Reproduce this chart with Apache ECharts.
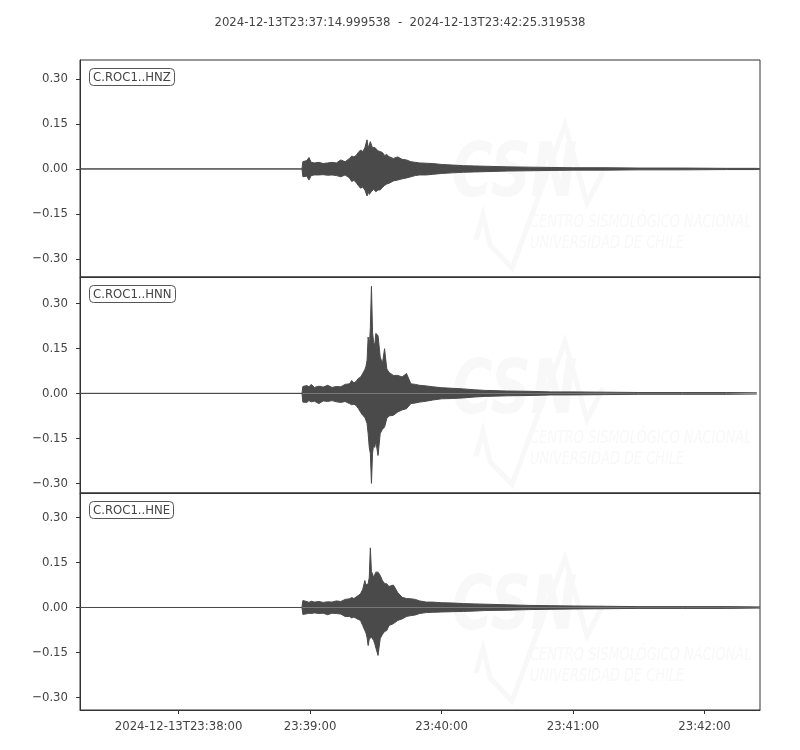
<!DOCTYPE html>
<html>
<head>
<meta charset="utf-8">
<script src="https://cdn.jsdelivr.net/npm/echarts@6/dist/echarts.min.js"></script>
<style>
  html, body { margin: 0; padding: 0; background: #fff; }
  #main { width: 800px; height: 750px; }
</style>
</head>
<body>
<div id="main"></div>
<script>
// times in seconds after 23:37:00 (start 23:37:14.999538, end 23:42:25.319538)
var tStart = 14.999538
var tEnd = 325.319538
var channels = ['C.ROC1..HNZ', 'C.ROC1..HNN', 'C.ROC1..HNE']

// envelope sample times (s)
var times = [15, 116.3, 116.7, 117.5, 118.5, 119.5, 120.5, 122, 124, 126, 128, 130, 132, 134, 136, 138, 139, 140,
  141, 142, 143, 144, 145, 145.5, 146, 146.5, 147, 147.5, 148, 148.5, 149, 149.5, 150, 151, 152, 153, 154, 155,
  156, 158, 160, 162, 164, 166, 168, 170, 173, 176, 180, 185, 190, 195, 200, 210, 220, 230, 240, 255, 270, 290,
  310, 323.9, 325.3]

// HNZ upper / lower envelope
var hnzHi = [0, 0, 0.024, 0.02, 0.028, 0.038, 0.022, 0.02, 0.022, 0.018, 0.02, 0.022, 0.02, 0.03, 0.024, 0.035, 0.043, 0.04,
  0.045, 0.055, 0.063, 0.058, 0.07, 0.085, 0.097, 0.07, 0.08, 0.091, 0.088, 0.07, 0.065, 0.072, 0.074, 0.06, 0.058, 0.055, 0.045, 0.048,
  0.041, 0.035, 0.04, 0.032, 0.03, 0.024, 0.022, 0.02, 0.019, 0.018, 0.015, 0.013, 0.011, 0.01, 0.009, 0.007, 0.006, 0.005, 0.004, 0.004, 0.003, 0.003,
  0.002, 0.002, 0.001]
var hnzLo = [0, 0, -0.026, -0.022, -0.024, -0.037, -0.022, -0.02, -0.02, -0.019, -0.021, -0.02, -0.022, -0.026, -0.02, -0.03, -0.042, -0.038,
  -0.045, -0.055, -0.064, -0.06, -0.07, -0.08, -0.09, -0.075, -0.085, -0.083, -0.075, -0.07, -0.068, -0.07, -0.076, -0.07, -0.07, -0.062, -0.055, -0.05,
  -0.048, -0.04, -0.037, -0.033, -0.03, -0.026, -0.022, -0.02, -0.02, -0.018, -0.015, -0.013, -0.011, -0.01, -0.009, -0.007, -0.006, -0.005, -0.004, -0.004, -0.003, -0.003,
  -0.002, -0.002, -0.001]

// HNN upper / lower envelope (trace stops before the end)
var hnnHi = [0, 0, 0.023, 0.02, 0.026, 0.022, 0.03, 0.02, 0.024, 0.021, 0.027, 0.02, 0.023, 0.022, 0.03, 0.032, 0.043, 0.035,
  0.04, 0.05, 0.054, 0.066, 0.08, 0.09, 0.11, 0.188, 0.15, 0.22, 0.357, 0.204, 0.17, 0.16, 0.2, 0.193, 0.121, 0.1, 0.149, 0.082,
  0.07, 0.06, 0.06, 0.055, 0.066, 0.032, 0.03, 0.027, 0.025, 0.022, 0.019, 0.017, 0.015, 0.012, 0.01, 0.008, 0.007, 0.005, 0.005, 0.004, 0.003, 0.003,
  0.003, 0.002, null]
var hnnLo = [0, 0, -0.029, -0.025, -0.03, -0.024, -0.028, -0.026, -0.034, -0.025, -0.027, -0.024, -0.028, -0.03, -0.027, -0.034, -0.038, -0.036,
  -0.04, -0.05, -0.062, -0.073, -0.08, -0.09, -0.1, -0.134, -0.18, -0.2, -0.30, -0.2, -0.17, -0.18, -0.16, -0.207, -0.134, -0.12, -0.112, -0.084,
  -0.075, -0.073, -0.062, -0.055, -0.051, -0.034, -0.032, -0.029, -0.026, -0.022, -0.018, -0.017, -0.015, -0.012, -0.01, -0.008, -0.007, -0.005, -0.005, -0.004, -0.003, -0.003,
  -0.003, -0.002, null]

// HNE upper / lower envelope
var hneHi = [0, 0, 0.023, 0.018, 0.02, 0.017, 0.021, 0.018, 0.02, 0.017, 0.019, 0.018, 0.022, 0.02, 0.027, 0.029, 0.033, 0.03,
  0.035, 0.04, 0.046, 0.06, 0.09, 0.075, 0.07, 0.079, 0.1, 0.199, 0.12, 0.112, 0.1, 0.095, 0.118, 0.118, 0.107, 0.09, 0.08, 0.079,
  0.07, 0.075, 0.05, 0.034, 0.03, 0.029, 0.027, 0.022, 0.018, 0.018, 0.016, 0.015, 0.013, 0.012, 0.011, 0.009, 0.007, 0.006, 0.005, 0.004, 0.003, 0.003,
  0.003, 0.002, 0.002]
var hneLo = [0, 0, -0.023, -0.018, -0.021, -0.019, -0.02, -0.018, -0.02, -0.019, -0.024, -0.019, -0.02, -0.022, -0.03, -0.03, -0.035, -0.032,
  -0.036, -0.04, -0.043, -0.06, -0.077, -0.085, -0.1, -0.127, -0.105, -0.11, -0.099, -0.1, -0.11, -0.121, -0.115, -0.16, -0.104, -0.09, -0.08, -0.077,
  -0.06, -0.054, -0.043, -0.038, -0.03, -0.027, -0.025, -0.02, -0.017, -0.016, -0.015, -0.014, -0.013, -0.012, -0.01, -0.009, -0.007, -0.006, -0.005, -0.004, -0.003, -0.003,
  -0.003, -0.002, -0.002]

var yMin = [-0.36, -0.332, -0.342]
var yMax = [0.363, 0.388, 0.382]
var yTickValues = [-0.3, -0.15, 0, 0.15, 0.3]
var yTickLabels = ['\u22120.30', '\u22120.15', '0.00', '0.15', '0.30']
var xTickValues = [60, 120, 180, 240, 300]
var xTickLabels = ['2024-12-13T23:38:00', '23:39:00', '23:40:00', '23:41:00', '23:42:00']
var titleText = '2024-12-13T23:37:14.999538  -  2024-12-13T23:42:25.319538'

var envelopes = [[hnzHi, hnzLo], [hnnHi, hnnLo], [hneHi, hneLo]]

var font = 'DejaVu Sans Condensed, DejaVu Sans, sans-serif'
var textColor = '#444'
var frameColor = '#333'
var traceColor = '#4a4a4a'
var gridTops = [60, 277, 493]
var gridHeights = [217, 216, 217]

function pairs(vals) {
  return times.map(function(t, i) { return [t, vals[i]] })
    .filter(function(p) { return p[1] !== null })
}

var grids = [], xAxes = [], yAxes = [], series = [], titles = [], graphics = []

titles.push({
  text: titleText, left: 'center', top: 11,
  textStyle: { fontFamily: font, fontSize: 13, fontWeight: 'normal', color: textColor }
})

channels.forEach(function(ch, i) {
  grids.push({
    left: 80, right: 40, top: gridTops[i], height: gridHeights[i],
    show: true, borderColor: frameColor, borderWidth: 1, backgroundColor: 'transparent'
  })
  var last = i === channels.length - 1
  xAxes.push({
    type: 'value', gridIndex: i, min: tStart, max: tEnd, position: 'bottom',
    axisLine: { show: true, onZero: false, lineStyle: { color: frameColor } },
    splitLine: { show: false },
    axisTick: { show: last, length: 4, customValues: xTickValues, lineStyle: { color: frameColor } },
    axisLabel: {
      show: last, customValues: xTickValues, margin: 10,
      fontFamily: font, fontSize: 13, color: textColor,
      formatter: function(v) { return xTickLabels[xTickValues.indexOf(v)] }
    }
  })
  yAxes.push({
    type: 'value', gridIndex: i, min: yMin[i], max: yMax[i], position: 'left',
    axisLine: { show: true, onZero: false, lineStyle: { color: frameColor } },
    splitLine: { show: false },
    axisTick: { show: true, length: 4, customValues: yTickValues, lineStyle: { color: frameColor } },
    axisLabel: {
      customValues: yTickValues, margin: 12,
      fontFamily: font, fontSize: 13, color: textColor,
      formatter: function(v) {
        for (var k = 0; k < yTickValues.length; k++) {
          if (Math.abs(yTickValues[k] - v) < 1e-9) return yTickLabels[k]
        }
        return ''
      }
    }
  })
  envelopes[i].forEach(function(env) {
    series.push({
      type: 'line', xAxisIndex: i, yAxisIndex: i,
      data: pairs(env),
      symbol: 'none', showSymbol: false,
      lineStyle: { color: traceColor, width: 1 },
      areaStyle: { color: traceColor, opacity: 1 },
      animation: false, silent: true, z: 3
    })
  })
  // channel label box
  titles.push({
    text: ch, left: 89, top: gridTops[i] + 8,
    padding: [3, 4, 2, 4],
    borderColor: '#555', borderWidth: 1, borderRadius: 4, backgroundColor: '#fff',
    textStyle: { fontFamily: font, fontSize: 13, fontWeight: 'normal', color: textColor }
  })
  // faint CSN watermark
  var dy = [0, 216.5, 433][i]
  var wm = '#f8f8f8'
  graphics.push({
    type: 'polyline', z: 0, silent: true,
    shape: { points: [[476, 240 + dy], [483, 215 + dy], [490, 245 + dy], [512, 268 + dy], [565, 125 + dy], [587, 203 + dy], [603, 172 + dy]] },
    style: { stroke: wm, lineWidth: 5, fill: null }
  })
  graphics.push({
    type: 'text', z: 0, silent: true, x: 452, y: 140 + dy, scaleX: 0.75,
    style: { text: 'CSN', fill: wm, font: 'italic bold 74px DejaVu Sans' }
  })
  graphics.push({
    type: 'text', z: 0, silent: true, x: 530, y: 213 + dy, scaleX: 0.8,
    style: { text: 'CENTRO SISMOL\u00d3GICO NACIONAL', fill: wm, font: 'italic 18px DejaVu Sans Condensed, DejaVu Sans' }
  })
  graphics.push({
    type: 'text', z: 0, silent: true, x: 530, y: 234 + dy, scaleX: 0.8,
    style: { text: 'UNIVERSIDAD DE CHILE', fill: wm, font: 'italic 18px DejaVu Sans Condensed, DejaVu Sans' }
  })
})

var myChart = echarts.init(document.getElementById('main'))
option = {
  backgroundColor: '#fff',
  animation: false,
  title: titles,
  grid: grids,
  xAxis: xAxes,
  yAxis: yAxes,
  series: series,
  graphic: graphics
}
myChart.setOption(option)
window.onresize = function() {
  myChart.resize()
}
</script>
</body>
</html>
